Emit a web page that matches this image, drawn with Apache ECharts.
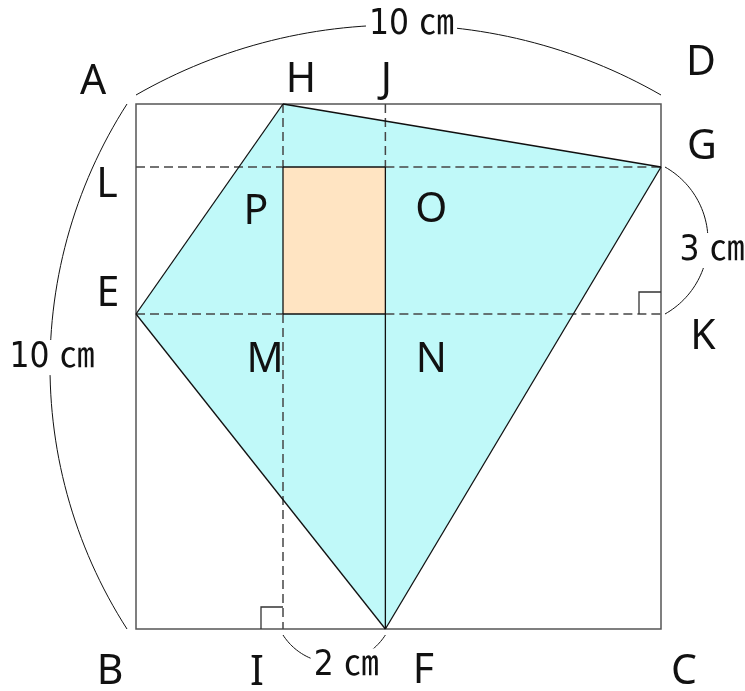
<!DOCTYPE html>
<html>
<head>
<meta charset="utf-8">
<script src="https://cdn.jsdelivr.net/npm/echarts@6/dist/echarts.min.js"></script>
<style>
  html, body { margin: 0; padding: 0; background: #fff; }
  #main { width: 745px; height: 691px; }
</style>
</head>
<body>
<div id="main"></div>
<script>
// points of the figure, in cm, origin at B
const pointNames = ['A', 'B', 'C', 'D', 'E', 'F', 'G', 'H', 'I', 'J', 'K', 'L', 'M', 'N', 'O', 'P'];
const pointX = [0, 0, 10, 10, 0, 4.75, 10, 2.8, 2.8, 4.75, 10, 0, 2.8, 4.75, 4.75, 2.8];
const pointY = [10, 0, 0, 10, 6, 0, 8.8, 10, 0, 10, 6, 8.8, 6, 6, 8.8, 8.8];

const square = ['A', 'B', 'C', 'D'];
const kite = ['E', 'H', 'G', 'F'];
const inner = ['P', 'O', 'N', 'M'];
const solidEdges = [['E', 'H'], ['H', 'G'], ['G', 'F'], ['F', 'E'], ['O', 'F'], ['P', 'O'], ['P', 'M'], ['M', 'N']];
const dashedEdges = [['L', 'P'], ['O', 'G'], ['E', 'M'], ['N', 'K'], ['H', 'P'], ['M', 'I'], ['J', 'O']];
const rightAngles = [['K', 'N', 'G'], ['I', 'B', 'M']];

// length marks
const dimFrom = ['A', 'A', 'G', 'I'];
const dimTo = ['D', 'B', 'K', 'F'];
const dimText = ['10 ㎝', '10 ㎝', '3 ㎝', '2 ㎝'];

document.addEventListener('DOMContentLoaded', function () {
    const chart = echarts.init(document.getElementById('main'));

    const val = function (n) {
        const i = pointNames.indexOf(n);
        return [pointX[i], pointY[i]];
    };

    // where each letter sits relative to its point (px)
    const labelOffset = {
        A: [-43, -22], B: [-26, 43], C: [23, 43], D: [40, -41],
        E: [-28, -20], F: [38, 42], G: [41, -20], H: [18, -24],
        I: [-26, 44], J: [1, -24], K: [42, 23], L: [-29, 18],
        M: [-18, 46], N: [46, 46], O: [46, 43], P: [-27, 45]
    };
    // gap from the side, bulge, text shift (px)
    const dimGap = [9, 9, 4, 6];
    const dimBulge = [70, 77, 43, 28];
    const dimShift = [[13, 0], [2, -9], [4, 10], [12, 3]];

    function arcOf(p1, p2, gap, bulge, centre) {
        let nx = -(p2[1] - p1[1]);
        let ny = p2[0] - p1[0];
        const len = Math.hypot(nx, ny);
        nx /= len; ny /= len;
        const mx = (p1[0] + p2[0]) / 2, my = (p1[1] + p2[1]) / 2;
        if ((mx - centre[0]) * nx + (my - centre[1]) * ny < 0) { nx = -nx; ny = -ny; }
        const a = [p1[0] + nx * gap, p1[1] + ny * gap];
        const b = [p2[0] + nx * gap, p2[1] + ny * gap];
        const apex = [mx + nx * (gap + bulge), my + ny * (gap + bulge)];
        const h = len / 2;
        const r = (h * h + bulge * bulge) / (2 * bulge);
        const c = [apex[0] - nx * r, apex[1] - ny * r];
        const a1 = Math.atan2(a[1] - c[1], a[0] - c[0]);
        let d = Math.atan2(b[1] - c[1], b[0] - c[0]) - a1;
        while (d > Math.PI) d -= 2 * Math.PI;
        while (d < -Math.PI) d += 2 * Math.PI;
        const pts = [];
        for (let k = 0; k <= 60; k++) {
            const t = a1 + d * k / 60;
            pts.push([c[0] + r * Math.cos(t), c[1] + r * Math.sin(t)]);
        }
        return { pts: pts, apex: apex };
    }

    function renderFigure(params, api) {
        const px = function (n) { return api.coord(val(n)); };
        const kids = [];

        kids.push({ type: 'polygon', shape: { points: kite.map(px) }, style: { fill: '#c0f9f9' } });
        kids.push({ type: 'polygon', shape: { points: inner.map(px) }, style: { fill: '#ffe4c2' } });
        kids.push({
            type: 'polygon', shape: { points: square.map(px) },
            style: { fill: 'none', stroke: '#555', lineWidth: 1.5 }
        });

        dashedEdges.forEach(function (e) {
            const p = px(e[0]), q = px(e[1]);
            kids.push({
                type: 'line', shape: { x1: p[0], y1: p[1], x2: q[0], y2: q[1] },
                style: { stroke: '#454545', lineWidth: 1.5, lineDash: [9, 5] }
            });
        });
        solidEdges.forEach(function (e) {
            const p = px(e[0]), q = px(e[1]);
            kids.push({
                type: 'line', shape: { x1: p[0], y1: p[1], x2: q[0], y2: q[1] },
                style: { stroke: '#111', lineWidth: 1.3 }
            });
        });

        // right angle boxes
        rightAngles.forEach(function (ra) {
            const v = px(ra[0]), p = px(ra[1]), q = px(ra[2]);
            const size = 22;
            const u1 = [p[0] - v[0], p[1] - v[1]], u2 = [q[0] - v[0], q[1] - v[1]];
            const l1 = Math.hypot(u1[0], u1[1]), l2 = Math.hypot(u2[0], u2[1]);
            const s1 = [u1[0] / l1 * size, u1[1] / l1 * size];
            const s2 = [u2[0] / l2 * size, u2[1] / l2 * size];
            kids.push({
                type: 'polyline',
                shape: { points: [[v[0] + s1[0], v[1] + s1[1]], [v[0] + s1[0] + s2[0], v[1] + s1[1] + s2[1]], [v[0] + s2[0], v[1] + s2[1]]] },
                style: { fill: 'none', stroke: '#333', lineWidth: 1.3 }
            });
        });

        // length arcs
        const centre = api.coord([5, 5]);
        dimFrom.forEach(function (f, i) {
            const arc = arcOf(px(f), px(dimTo[i]), dimGap[i], dimBulge[i], centre);
            kids.push({
                type: 'polyline', shape: { points: arc.pts },
                style: { fill: 'none', stroke: '#111', lineWidth: 1 }
            });
            kids.push({
                type: 'text',
                style: {
                    text: dimText[i],
                    x: arc.apex[0] + dimShift[i][0], y: arc.apex[1] + dimShift[i][1],
                    align: 'center', verticalAlign: 'middle',
                    font: '35px "Liberation Sans Narrow", "DejaVu Sans Condensed", "Noto Sans CJK JP", sans-serif',
                    fill: '#111', backgroundColor: '#fff', padding: [0, 3]
                }
            });
        });

        // point letters
        pointNames.forEach(function (n) {
            const p = px(n), o = labelOffset[n];
            kids.push({
                type: 'text',
                style: {
                    text: n, x: p[0] + o[0], y: p[1] + o[1],
                    align: 'center', verticalAlign: 'middle',
                    font: '41px "Noto Sans", sans-serif', fill: '#111'
                }
            });
        });

        return { type: 'group', children: kids };
    }

    chart.setOption({
        animation: false,
        grid: { left: 136, top: 104, right: 84, bottom: 62 },
        xAxis: { type: 'value', min: 0, max: 10, show: false },
        yAxis: { type: 'value', min: 0, max: 10, show: false },
        series: [{
            type: 'custom',
            renderItem: renderFigure,
            data: [[0, 0]],
            clip: false,
            silent: true
        }]
    });

    window.addEventListener('resize', function () { chart.resize(); });
});
</script>
</body>
</html>
